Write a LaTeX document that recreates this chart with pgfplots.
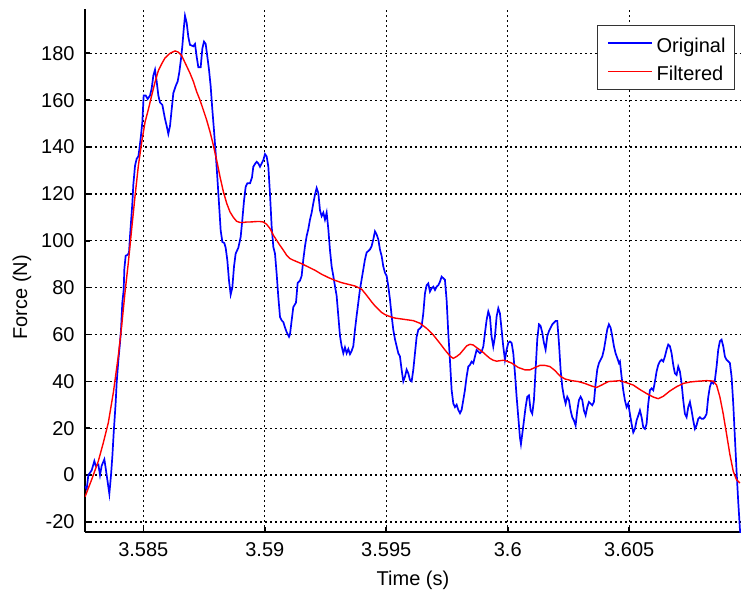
\documentclass[border=0pt]{standalone}
\usepackage{fontspec}
\setmainfont{Liberation Sans}
\usepackage{pgfplots}
\pgfplotsset{compat=1.18}

\begin{document}
\begin{tikzpicture}
\begin{axis}[
    at={(0,0)}, anchor=south west,
    scale only axis, width=328pt, height=261.5pt,
    xmin=3.5826, xmax=3.6096,
    ymin=-24.3, ymax=198.9,
    axis x line*=bottom, axis y line*=left,
    axis line style={line width=0.8pt, -},
    xtick={3.585,3.59,3.595,3.6,3.605},
    xticklabels={3.585,3.59,3.595,3.6,3.605},
    ytick={-20,0,...,180},
    tick align=inside, major tick length=2.5pt,
    tick style={black, line width=0.8pt},
    grid=major,
    major grid style={black, line width=0.65pt, dash pattern=on 1.1pt off 1.4pt},
    /pgf/number format/assume math mode=true,
    tick label style={font=\fontsize{10}{12}\selectfont},
    xticklabel style={anchor=base, yshift=-12pt, inner sep=0pt},
    yticklabel style={anchor=east, xshift=-5pt, inner sep=0pt},
    label style={font=\fontsize{10}{12}\selectfont},
    xlabel={Time (s)}, ylabel={Force (N)},
    xlabel style={at={(axis description cs:0.5,0)}, anchor=base, yshift=-26.75pt, inner sep=0pt},
    ylabel style={at={(axis description cs:-0.096,0.449)}, anchor=center, inner sep=0pt},
    legend cell align=left,
    legend style={at={(axis description cs:0.9909,0.9694)}, anchor=north east,
        draw=black!80, line width=0.5pt, fill=white,
        inner xsep=4.5pt, inner ysep=3.85pt, row sep=4.2pt, /tikz/column sep=2pt,
        font=\fontsize{10}{12}\selectfont,
        nodes={inner sep=0pt, text height=9.5pt, text depth=0.5pt}},
    legend image code/.code={\draw[#1] (0pt,0pt) -- (22pt,0pt); \path (0pt,-4.6pt);},
]

% raw force signal
\addplot[blue, line width=0.85pt] coordinates {
(3.582601,-4.7) (3.582670,-6) (3.582738,0) (3.582875,2) (3.582985,6) (3.583040,4) (3.583150,4.5) (3.583218,0)
(3.583287,4) (3.583397,6.7) (3.583451,3) (3.583534,-3) (3.583602,-8) (3.583671,0) (3.583726,8) (3.583781,18)
(3.583863,31) (3.583904,39.5) (3.583973,49) (3.584041,56.5) (3.584082,62) (3.584137,73.6) (3.584192,79) (3.584220,88)
(3.584274,93.6) (3.584357,94) (3.584412,95) (3.584453,102) (3.584494,108) (3.584549,116) (3.584590,124) (3.584659,132)
(3.584727,135) (3.584796,136) (3.584837,139) (3.584905,145) (3.584960,150.6) (3.585015,162) (3.585097,162) (3.585180,160.5)
(3.585276,162) (3.585345,165) (3.585413,170.5) (3.585482,173) (3.585550,168) (3.585619,162) (3.585687,159) (3.585783,158)
(3.585893,152) (3.585962,149) (3.586030,145.6) (3.586099,149) (3.586167,156) (3.586236,163) (3.586332,166) (3.586414,168)
(3.586483,172) (3.586551,177.6) (3.586606,183) (3.586661,190) (3.586716,196) (3.586785,193) (3.586853,187)
(3.586922,183.6) (3.587059,183) (3.587128,184) (3.587196,178.6) (3.587265,174) (3.587361,174) (3.587430,182) (3.587498,185)
(3.587567,184) (3.587635,178.6) (3.587704,173) (3.587772,166) (3.587841,156) (3.587910,147) (3.587978,137.5) (3.588047,127)
(3.588115,116) (3.588184,104.5) (3.588253,99.5) (3.588335,99) (3.588390,97) (3.588458,91.7) (3.588527,83) (3.588595,77)
(3.588664,80) (3.588733,89) (3.588801,94.5) (3.588911,97) (3.589007,101.6) (3.589076,109) (3.589144,117) (3.589213,123)
(3.589281,124.5) (3.589391,124.5) (3.589473,127) (3.589528,131.6) (3.589611,133) (3.589666,133.7) (3.589734,133) (3.589803,131.6)
(3.589871,133) (3.589940,134.4) (3.590008,137) (3.590077,136) (3.590146,131.6) (3.590214,120) (3.590283,106) (3.590351,97.4)
(3.590420,94.5) (3.590488,86) (3.590557,76) (3.590626,67.5) (3.590694,66) (3.590763,65.3) (3.590831,63) (3.590900,61)
(3.590996,59) (3.591037,60) (3.591106,66) (3.591174,71.7)
(3.591284,73.6) (3.591353,82) (3.591449,83) (3.591517,85) (3.591586,92) (3.591655,97.7) (3.591723,102) (3.591792,105)
(3.591860,109) (3.591929,112) (3.591997,116) (3.592066,119.7) (3.592135,122.5) (3.592203,120.4) (3.592272,113) (3.592340,110.5)
(3.592409,112) (3.592477,109) (3.592546,112) (3.592615,105) (3.592683,96) (3.592752,89) (3.592820,85) (3.592889,80.6)
(3.592957,76.5) (3.593026,68) (3.593095,59.4) (3.593163,55) (3.593232,52) (3.593300,54.5) (3.593369,52) (3.593438,53.8)
(3.593506,51.6) (3.593575,53) (3.593643,55) (3.593712,62) (3.593780,68) (3.593849,73.6) (3.593918,79.3) (3.593986,83.5)
(3.594055,87.8) (3.594123,92) (3.594192,95) (3.594260,95.6) (3.594329,96.3) (3.594398,97.7) (3.594466,100.6) (3.594535,104)
(3.594603,102.7) (3.594672,100.6) (3.594740,96.3) (3.594809,93.5) (3.594878,89) (3.594946,86.4) (3.595015,85) (3.595083,80.6)
(3.595152,75) (3.595220,68) (3.595289,62) (3.595358,58) (3.595426,55) (3.595495,52)
(3.595564,50.6) (3.595632,44.9) (3.595701,40) (3.595770,42) (3.595838,45) (3.595907,43.4) (3.595975,40.6) (3.596044,40)
(3.596113,45) (3.596181,52) (3.596250,59) (3.596318,62) (3.596387,62.6) (3.596455,63.4) (3.596524,69) (3.596593,77.6)
(3.596661,81) (3.596730,81.8) (3.596798,78.3) (3.596867,79.7) (3.596935,80.4) (3.597004,79) (3.597073,80.4) (3.597141,81)
(3.597210,82.5) (3.597278,84.7) (3.597347,84) (3.597415,83.3) (3.597484,74.7) (3.597553,60.5) (3.597621,49) (3.597690,36.3)
(3.597758,30.6) (3.597827,29) (3.597896,30) (3.597964,27.8) (3.598033,26.4) (3.598101,27.8) (3.598170,32) (3.598238,36.3)
(3.598307,42) (3.598376,46.3) (3.598444,47) (3.598513,48.4) (3.598581,47.7) (3.598650,50.6) (3.598718,53.4) (3.598787,52.7)
(3.598856,52) (3.598924,52.7) (3.598993,54.8) (3.599061,60.5) (3.599130,66.2) (3.599199,69.8) (3.599267,67.6) (3.599336,59)
(3.599404,54.8) (3.599473,59) (3.599541,67.6) (3.599610,71.2) (3.599679,69) (3.599747,62) (3.599816,54.8)
(3.599885,49.2) (3.599954,53.5) (3.600022,56.4) (3.600091,57) (3.600159,56.4) (3.600228,52) (3.600297,43.3) (3.600365,33.4)
(3.600434,24.7) (3.600502,16) (3.600543,13.2) (3.600598,17.5) (3.600667,23.3) (3.600735,29) (3.600804,33.4) (3.600872,34)
(3.600941,27.6) (3.601009,26.2) (3.601078,32) (3.601147,45) (3.601215,58) (3.601284,64.3) (3.601352,63.6) (3.601421,60.7)
(3.601490,56.4) (3.601558,53.5) (3.601627,59.3) (3.601695,61.4) (3.601764,62.9) (3.601832,64.3) (3.601901,65) (3.601970,65.8)
(3.602038,65.8) (3.602107,56.4) (3.602175,45) (3.602244,37.7) (3.602313,33.4) (3.602381,30.5) (3.602450,33.4) (3.602518,32)
(3.602587,27.6) (3.602655,24.7) (3.602724,23.3) (3.602793,21.2) (3.602861,27.6) (3.602930,32) (3.602998,33.4) (3.603067,32)
(3.603135,27.6) (3.603204,25.5) (3.603273,29) (3.603341,31.2) (3.603410,30.5) (3.603478,29.8) (3.603547,31.2) (3.603616,39)
(3.603684,45) (3.603753,47.8) (3.603821,49.2) (3.603890,50.6) (3.603958,53.5) (3.604027,57.8) (3.604096,62.2) (3.604164,64.3)
(3.604233,62.9) (3.604301,59.3) (3.604370,55) (3.604438,52) (3.604507,50) (3.604576,47.8)
(3.604617,48.5) (3.604686,41.9) (3.604754,36.2) (3.604823,31.9) (3.604891,29) (3.604960,30.5) (3.605029,26.1) (3.605097,21.8)
(3.605166,18.2) (3.605234,19.7) (3.605303,23.3) (3.605372,25.4) (3.605440,27.6) (3.605509,24.7) (3.605577,20.4) (3.605646,19.7)
(3.605714,21.8) (3.605783,30.5) (3.605852,36.2) (3.605920,37) (3.605989,36.2) (3.606057,39.8) (3.606126,44.2) (3.606194,47)
(3.606263,48.5) (3.606332,49.2) (3.606400,48.5) (3.606469,50.6) (3.606537,53.5) (3.606606,55.7) (3.606675,55) (3.606743,52)
(3.606812,47) (3.606880,43.4) (3.606949,42.7) (3.607017,46.3) (3.607086,44.2) (3.607155,39.1) (3.607223,31.9) (3.607292,26.1)
(3.607360,24.7) (3.607429,29) (3.607498,31.2) (3.607566,27.6) (3.607635,23.3) (3.607703,19.7) (3.607772,21.2) (3.607840,24)
(3.607909,24.7) (3.607978,24) (3.608046,24) (3.608115,24.7) (3.608183,26.1) (3.608252,33.3) (3.608320,37.7) (3.608389,39.8)
(3.608458,39.1) (3.608526,40.5) (3.608595,46.3) (3.608663,53.5) (3.608732,57.1) (3.608801,57.8) (3.608869,55) (3.608938,50.6)
(3.609006,49.2) (3.609075,48.5) (3.609143,47.8) (3.609212,42) (3.609281,30.5) (3.609349,16) (3.609418,1.6) (3.609486,-11.3)
(3.609555,-22.9) (3.609583,-25.7)
};
\addlegendentry{Original\hspace{7.5pt}}

% low-pass filtered signal
\addplot[red, line width=0.7pt] coordinates {
(3.582601,-9.3) (3.582875,-1.9) (3.583150,6) (3.583355,13.8) (3.583561,22.4) (3.583767,35.2) (3.583973,51) (3.584110,63.7)
(3.584247,78) (3.584384,90.7) (3.584521,105) (3.584659,119) (3.584796,132) (3.584933,142) (3.585070,150.6) (3.585207,156)
(3.585345,162) (3.585482,167.7) (3.585619,172.6) (3.585756,175.5) (3.585893,178) (3.586099,180) (3.586304,181) (3.586441,180.5)
(3.586579,179) (3.586716,176) (3.586922,171.5) (3.587059,168) (3.587196,163.6) (3.587334,160) (3.587471,155.8) (3.587608,151.5)
(3.587745,146.5) (3.587882,140.8) (3.588019,134.4) (3.588157,127.3) (3.588294,121) (3.588431,116) (3.588568,112.3) (3.588705,110)
(3.588842,108.3) (3.588980,107.8) (3.589117,107.8) (3.589254,108) (3.589391,108) (3.589666,108.2) (3.589803,108.2) (3.589940,108)
(3.590077,107) (3.590214,105.2) (3.590351,102.4) (3.590488,100.2) (3.590626,98) (3.590763,96) (3.590900,93.8) (3.591037,92.4)
(3.591174,91.7) (3.591517,90.2) (3.591792,88.8) (3.592066,87.4) (3.592340,85.7) (3.592615,84.3) (3.592889,83.1) (3.593163,82.1)
(3.593438,81.4) (3.593712,80.7) (3.593986,79.3) (3.594123,77.6) (3.594260,75.8) (3.594398,73.9) (3.594535,72.2) (3.594672,70.8)
(3.594809,69.4) (3.594946,68.5) (3.595083,67.9) (3.595220,67.4) (3.595358,67) (3.595495,66.8) (3.595838,66.3) (3.596113,65.9)
(3.596387,64.8) (3.596661,62.6) (3.596935,59.8) (3.597210,56.2) (3.597415,53.4) (3.597621,50.8) (3.597758,49.8) (3.597896,50.6)
(3.598033,51.7) (3.598170,53.4) (3.598307,55.1) (3.598444,55.8) (3.598581,55.5) (3.598718,54.4) (3.598856,53.4) (3.598993,52.3)
(3.599130,51) (3.599267,49.8) (3.599404,49) (3.599541,48.6) (3.599679,48.8) (3.599816,49) (3.599885,48.9) (3.600159,47.8)
(3.600434,45.9) (3.600708,44.9) (3.600914,44.9) (3.601120,45.9) (3.601325,46.8) (3.601531,46.8) (3.601737,46.3) (3.601943,44.6)
(3.602148,42.3) (3.602354,41) (3.602628,40.3) (3.602903,39.9) (3.603177,39.1) (3.603451,38) (3.603657,37.4) (3.603863,38.4)
(3.604137,39.9) (3.604412,40.1) (3.604617,40.3) (3.604891,39.4) (3.605166,38.4) (3.605440,36.5) (3.605714,34.8) (3.605989,33.3)
(3.606194,32.6) (3.606400,33.6) (3.606675,35.9) (3.606949,37.7) (3.607223,39.1) (3.607498,39.7) (3.607772,40) (3.608183,40.3)
(3.608458,40.1) (3.608595,38.4) (3.608732,33.3) (3.608869,26.1) (3.609006,17.5) (3.609143,8.8) (3.609281,1.6) (3.609418,-2)
(3.609555,-3.4)
};
\addlegendentry{Filtered\hspace{7.5pt}}

\end{axis}
\pgfresetboundingbox
\path[use as bounding box] (-42.5pt,-32pt) rectangle (328pt,266pt);
\end{tikzpicture}
\end{document}
